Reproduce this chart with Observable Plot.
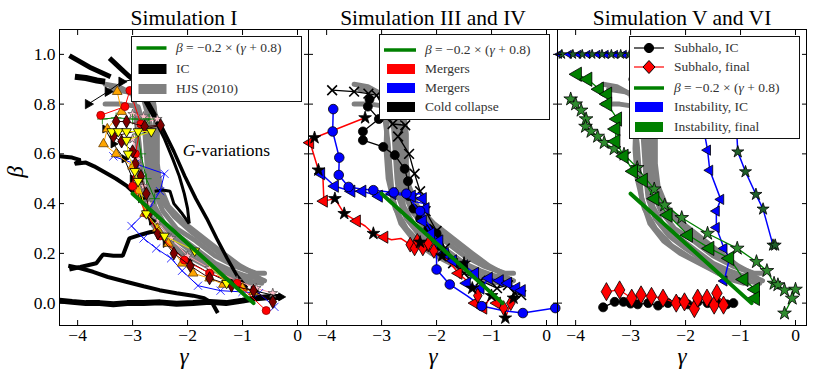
<!DOCTYPE html>
<html>
<head>
<meta charset="utf-8">
<script src="https://cdn.jsdelivr.net/npm/d3@7"></script>
<script src="https://cdn.jsdelivr.net/npm/@observablehq/plot@0.6"></script>
<style>
html,body{margin:0;padding:0;background:#fff;}
#wrap{position:relative;width:831px;height:371px;overflow:hidden;font-family:"Liberation Serif","DejaVu Serif","Noto Serif","Times New Roman",Tinos,FreeSerif,serif;}
#wrap > svg{display:block;}
.leg{position:absolute;background:#fff;border:1px solid #111;box-sizing:border-box;}
.row{position:absolute;left:0;height:20px;width:100%;}
.row svg{position:absolute;left:0;top:0;}
.row span{position:absolute;top:0;line-height:20px;font-size:13.5px;color:#333;white-space:nowrap;}
</style>
</head>
<body>
<div id="wrap"></div>
<script>
const P1 = "Simulation I", P2 = "Simulation III and IV", P3 = "Simulation V and VI";
const panels = [P1, P2, P3];
const xTicks = [-4, -3, -2, -1, 0];
const yTicks = [0, 0.2, 0.4, 0.6, 0.8, 1.0];
const fitLine = [[-3.0, 0.44], [-0.8, 0.0]];

// HJS (2010) grey strands (drawn in every panel)
const hjs1 = [[-3.5,0.80],[-3.2,0.80],[-2.9,0.79],[-2.78,0.70],[-2.75,0.6],[-2.72,0.5],[-2.68,0.42],[-2.55,0.34],[-2.3,0.27],[-2.0,0.22],[-1.6,0.16],[-1.2,0.11],[-0.9,0.09],[-0.65,0.08]];
const hjs2 = [[-3.4,0.86],[-3.1,0.85],[-2.8,0.82],[-2.68,0.72],[-2.62,0.6],[-2.6,0.5],[-2.5,0.42],[-2.25,0.35],[-1.95,0.29],[-1.6,0.23],[-1.3,0.18],[-1.0,0.14],[-0.75,0.12],[-0.6,0.12]];
const hjs3 = [[-3.0,0.9],[-2.8,0.87],[-2.62,0.8],[-2.55,0.68],[-2.55,0.56],[-2.5,0.47],[-2.35,0.39],[-2.05,0.32],[-1.7,0.26],[-1.35,0.2],[-1.05,0.15],[-0.8,0.12]];
const hjs4 = [[-2.95,0.76],[-2.88,0.64],[-2.84,0.52],[-2.8,0.42],[-2.65,0.32],[-2.4,0.25],[-2.1,0.2],[-1.75,0.16],[-1.4,0.12],[-1.1,0.095],[-0.85,0.08]];
const hjs5 = [[-2.75,0.84],[-2.72,0.7],[-2.7,0.58],[-2.66,0.48],[-2.6,0.39],[-2.4,0.31],[-2.1,0.26],[-1.8,0.21],[-1.5,0.16],[-1.2,0.13],[-0.95,0.11],[-0.7,0.1]];
const hjs6 = [[-3.5,0.88],[-3.25,0.87],[-3.0,0.84],[-2.9,0.74],[-2.92,0.62],[-2.88,0.5],[-2.75,0.38],[-2.55,0.3],[-2.25,0.23],[-1.9,0.18],[-1.55,0.14],[-1.25,0.1],[-0.95,0.08]];
const hjs7 = [[-2.85,0.9],[-2.65,0.86],[-2.58,0.74],[-2.62,0.62],[-2.65,0.52],[-2.58,0.44],[-2.45,0.37],[-2.2,0.3],[-1.85,0.25],[-1.5,0.19],[-1.15,0.15],[-0.9,0.13],[-0.7,0.1],[-0.6,0.09]];
const hjsStrands = [hjs1, hjs2, hjs3, hjs4, hjs5, hjs6, hjs7];

// Simulation I : IC (thick black)
const ic1 = [[-4.15,0.995],[-3.95,0.97],[-3.75,0.945],[-3.55,0.925],[-3.4,0.91]];
const ic2 = [[-4.05,0.91],[-3.85,0.905],[-3.65,0.895],[-3.5,0.89]];
const ic3 = [[-3.42,0.985],[-3.25,0.95],[-3.08,0.915],[-2.9,0.885]];
const ic4 = [[-2.95,0.88],[-2.8,0.84],[-2.62,0.77],[-2.45,0.70],[-2.25,0.61],[-2.05,0.51],[-1.85,0.42],[-1.65,0.34],[-1.47,0.26],[-1.28,0.18],[-1.1,0.11],[-0.92,0.06]];
const ic5 = [[-2.8,0.82],[-2.6,0.74],[-2.42,0.66],[-2.27,0.58],[-2.15,0.51],[-2.06,0.44],[-2.0,0.38],[-1.97,0.32]];
const ic6 = [[-4.33,0.59],[-4.1,0.585],[-3.95,0.575],[-4.05,0.56],[-3.85,0.565],[-3.7,0.55],[-3.5,0.525],[-3.3,0.5],[-3.1,0.47],[-2.95,0.44]];
const ic7 = [[-2.6,0.45],[-2.45,0.455],[-2.32,0.45],[-2.25,0.4],[-2.1,0.36],[-1.97,0.32]];
const ic8 = [[-4.15,0.135],[-3.95,0.145],[-3.66,0.16],[-3.54,0.195],[-3.35,0.19],[-3.18,0.19],[-3.06,0.26],[-2.85,0.275],[-2.69,0.285],[-2.55,0.29]];
const ic9 = [[-4.17,0.15],[-3.95,0.14],[-3.72,0.126],[-3.45,0.105],[-3.12,0.086],[-2.8,0.068],[-2.51,0.052],[-2.2,0.04],[-1.9,0.03],[-1.7,0.02],[-1.55,0.0],[-1.45,-0.04]];
const ic10 = [[-4.33,0.01],[-4.1,0.005],[-3.85,0.0],[-3.6,0.0],[-3.35,-0.005],[-3.1,0.0],[-2.8,0.0],[-2.5,0.003],[-2.2,-0.003],[-1.9,0.0],[-1.6,0.005],[-1.3,0.0],[-1.0,0.01],[-0.75,0.02],[-0.5,0.025],[-0.3,0.025]];
const icLines = [ic1, ic2, ic3, ic4, ic5, ic6, ic7, ic8, ic9, ic10];
const icWidths = [5, 6, 5, 3.5, 3, 4, 3, 4, 4, 6];

// Simulation I : G-variations
const p1Red = [[-3.58,0.755],[-3.14,0.79],[-3.05,0.855],[-2.85,0.72],[-2.95,0.6],[-3.0,0.47],[-2.75,0.36],[-2.5,0.27],[-2.06,0.173],[-1.6,0.12],[-1.1,0.08],[-0.57,-0.03]];
const p1Orange = [[-3.28,0.85],[-3.2,0.77],[-3.46,0.70],[-3.53,0.64],[-3.3,0.6],[-3.0,0.55],[-2.9,0.45],[-2.78,0.36],[-2.55,0.3],[-2.35,0.24],[-2.1,0.16],[-1.9,0.12],[-1.6,0.1],[-1.35,0.075],[-1.0,0.06],[-0.8,0.045]];
const p1Yellow = [[-3.38,0.69],[-3.26,0.69],[-3.11,0.69],[-2.9,0.69],[-2.66,0.69],[-3.11,0.655],[-3.08,0.6],[-2.96,0.53],[-2.9,0.49],[-2.75,0.36],[-2.42,0.27],[-1.87,0.21],[-1.29,0.08]];
const p1Maroon = [[-3.3,0.73],[-3.11,0.73],[-2.78,0.71],[-2.49,0.715],[-3.35,0.67],[-3.2,0.65],[-3.0,0.61],[-2.95,0.56],[-2.85,0.51],[-2.75,0.44],[-2.7,0.36],[-2.54,0.28],[-2.25,0.2],[-1.95,0.15],[-1.6,0.1],[-1.2,0.07],[-0.8,0.05],[-0.45,0.005]];
const p1Pink = [[-3.0,0.76],[-2.8,0.75],[-2.55,0.74],[-2.9,0.72],[-3.0,0.66],[-2.9,0.58],[-2.85,0.52],[-2.8,0.47],[-2.7,0.4],[-2.55,0.33],[-2.3,0.26],[-2.0,0.19],[-1.6,0.14],[-1.1,0.09],[-0.75,0.06],[-0.45,0.04]];
const p1BlueX = [[-3.35,0.59],[-2.95,0.56],[-2.42,0.52],[-2.5,0.45],[-2.7,0.38],[-3.02,0.31],[-2.8,0.26],[-2.57,0.22],[-2.3,0.18],[-2.1,0.13],[-1.81,0.07],[-1.4,0.05],[-1.0,0.045],[-0.7,0.04],[-0.42,-0.015]];
const p1Black1 = [[-3.81,0.80],[-3.45,0.85],[-3.2,0.89],[-2.95,0.90],[-2.7,0.89]];
const p1Black2 = [[-3.5,0.7],[-3.35,0.64],[-3.15,0.58],[-3.0,0.5],[-2.85,0.42],[-2.65,0.33],[-2.4,0.24],[-2.0,0.17],[-1.6,0.12],[-1.2,0.08],[-0.8,0.05],[-0.3,0.025]];
const p1GreenPlus = [[-3.55,0.74],[-3.3,0.745],[-3.0,0.74],[-2.7,0.74],[-2.9,0.68],[-2.85,0.6],[-2.75,0.5],[-2.6,0.42]];

// Simulation III and IV
const p2RedPath = [[-3.3,0.745],[-4.22,0.665],[-4.3,0.645],[-4.15,0.535],[-4.07,0.52],[-4.05,0.41],[-3.85,0.42],[-3.68,0.36],[-3.45,0.33],[-3.3,0.31],[-3.15,0.28],[-2.95,0.265],[-2.82,0.255],[-2.65,0.26],[-2.48,0.235],[-2.4,0.22],[-2.3,0.245],[-2.2,0.23],[-2.05,0.21],[-1.9,0.19],[-1.75,0.16],[-1.6,0.12],[-1.45,0.09],[-1.35,0.06],[-1.25,0.03],[-1.3,0.0],[-1.15,-0.02],[-1.0,0.03],[-0.9,0.0],[-0.78,-0.02],[-0.75,-0.06],[-0.65,0.0],[-0.6,0.02]];
const p2RedStars = [[-3.3,0.745],[-4.22,0.665],[-4.15,0.535],[-3.85,0.42],[-3.68,0.36],[-3.15,0.28],[-2.3,0.245],[-1.9,0.19],[-1.5,0.16],[-1.35,0.06],[-1.0,0.03],[-0.75,-0.06],[-0.6,0.02]];
const p2RedTri = [[-4.3,0.645],[-4.05,0.41],[-3.45,0.33],[-2.95,0.265],[-2.2,0.23],[-1.6,0.12],[-1.3,0.0],[-0.9,0.0],[-1.15,-0.02]];
const p2RedDia = [[-2.48,0.235],[-2.4,0.22],[-2.35,0.25],[-2.25,0.22],[-2.15,0.24],[-2.05,0.21],[-1.25,0.03],[-0.78,-0.02],[-0.65,0.0]];
const p2BluePath = [[-3.88,0.78],[-3.89,0.69],[-3.77,0.585],[-3.78,0.515],[-3.6,0.467],[-3.4,0.46],[-3.15,0.454],[-2.78,0.445],[-2.55,0.44],[-2.3,0.44],[-2.22,0.4],[-2.45,0.41],[-2.32,0.37],[-2.22,0.34],[-2.1,0.3],[-2.02,0.26],[-2.0,0.2],[-2.0,0.135],[-1.76,0.075],[-1.45,0.03],[-1.18,-0.012],[-0.8,-0.03],[-0.43,-0.04],[0.16,-0.02]];
const p2BlueCirc = [[-3.88,0.78],[-3.89,0.69],[-3.77,0.585],[-3.78,0.515],[-3.6,0.467],[-3.15,0.454],[-2.78,0.445],[-2.55,0.44],[-2.3,0.37],[-2.0,0.135],[-1.76,0.075],[-1.18,-0.012],[-0.43,-0.04],[0.16,-0.02]];
const p2BlueTri = [[-4.1,0.52],[-3.85,0.47],[-3.55,0.45],[-3.35,0.45],[-3.05,0.43],[-2.8,0.44],[-2.45,0.43],[-2.25,0.42],[-2.2,0.38],[-2.25,0.33],[-2.1,0.28],[-1.95,0.25],[-1.85,0.2],[-1.7,0.17],[-1.5,0.15],[-1.3,0.12],[-1.45,0.08],[-1.2,0.06],[-1.05,0.1],[-0.85,0.09],[-0.7,0.08],[-0.55,0.06],[-0.45,0.05]];
const p2ColdCirc = [[-3.22,0.82],[-3.25,0.79],[-3.05,0.74],[-3.34,0.69],[-3.34,0.655],[-2.97,0.628],[-2.76,0.595],[-2.58,0.54],[-2.52,0.49],[-2.5,0.43],[-2.42,0.38],[-2.3,0.34],[-2.15,0.30],[-2.0,0.28],[-1.95,0.23],[-1.85,0.2]];
const p2ColdX = [[-3.9,0.856],[-3.5,0.85],[-3.24,0.842],[-3.09,0.835],[-2.95,0.78],[-2.8,0.72],[-2.57,0.715],[-2.7,0.67],[-2.5,0.6],[-2.4,0.52],[-2.3,0.45],[-2.2,0.37],[-2.0,0.29],[-1.85,0.22],[-1.7,0.16],[-1.5,0.12],[-1.2,0.09],[-0.9,0.06],[-0.7,0.072],[-0.58,0.04],[-0.46,0.032]];

// Simulation V and VI
const p3SubIC = [[-3.5,-0.017],[-3.29,0.005],[-3.13,0.005],[-3.0,-0.002],[-2.87,-0.005],[-2.68,0.0],[-2.5,-0.01],[-2.32,0.0],[-2.14,0.005],[-1.96,-0.005],[-1.78,0.005],[-1.6,0.0],[-1.42,0.005],[-1.25,-0.005],[-1.13,0.0]];
const p3SubFinal = [[-3.44,0.046],[-3.2,0.053],[-2.98,0.02],[-2.81,0.033],[-2.62,0.027],[-2.41,0.02],[-2.17,0.0],[-2.02,0.005],[-1.84,-0.022],[-1.78,0.02],[-1.61,0.02],[-1.48,-0.008],[-1.43,0.04],[-1.31,-0.008]];
const p3InstIcTri = [[-4.3,1.0],[-4.12,1.0],[-3.95,1.0],[-3.78,1.0],[-3.6,1.0],[-3.45,1.0],[-3.28,1.0],[-3.12,1.0],[-2.95,1.0],[-2.6,1.0],[-2.2,0.97],[-1.9,0.88],[-1.72,0.76],[-1.6,0.615],[-1.56,0.534],[-1.36,0.417],[-1.44,0.37],[-1.44,0.304],[-1.3,0.22],[-1.2,0.18],[-1.3,0.089]];
const p3InstIcStar = [[-4.25,1.0],[-4.05,1.0],[-3.88,1.0],[-3.7,1.0],[-3.52,1.0],[-3.35,1.0],[-3.18,1.0],[-3.02,1.0],[-2.6,1.0],[-2.0,0.97],[-1.5,0.88],[-1.2,0.77],[-1.07,0.69],[-1.05,0.608],[-0.91,0.528],[-0.72,0.437],[-0.59,0.378],[-0.41,0.233],[-0.37,0.233]];
const p3InstFinTri = [[-3.97,0.92],[-3.78,0.90],[-3.57,0.86],[-3.42,0.84],[-3.42,0.80],[-3.24,0.74],[-3.27,0.70],[-3.27,0.65],[-3.12,0.59],[-2.95,0.53],[-2.77,0.494],[-2.56,0.42],[-2.32,0.354],[-1.95,0.273],[-1.56,0.22],[-1.2,0.18],[-0.94,0.095],[-0.73,0.055],[-0.73,0.019]];
const p3InstFinStar = [[-4.09,0.82],[-4.0,0.80],[-3.9,0.775],[-3.81,0.74],[-3.82,0.71],[-3.72,0.69],[-3.6,0.67],[-3.48,0.645],[-3.3,0.62],[-3.12,0.598],[-2.88,0.544],[-2.57,0.458],[-2.38,0.394],[-2.07,0.343],[-1.6,0.28],[-1.06,0.22],[-0.71,0.166],[-0.52,0.13],[-0.39,0.079],[-0.32,0.073],[-0.2,0.052],[0.0,0.055],[-0.06,0.019],[-0.2,-0.041]];

// ---- styles (kept apart from the data) ----
const topRowR = d => d.y > 0.95 ? 3.3 : 5.3;
const series = [
  {p:P1, d:p1Pink, stroke:"#ff9fb0", sym:"star", fill:"#ffc0cb", ms:"#555", r:3},
  {p:P1, d:p1BlueX, stroke:"blue", sym:"times", fill:"none", ms:"blue", r:3.8},
  {p:P1, d:p1GreenPlus, stroke:"green", sym:"plus", fill:"none", ms:"green", r:3.5},
  {p:P1, d:p1Black1, stroke:"black", sym:"triangle", rot:90, fill:"black", ms:"black", r:3.5},
  {p:P1, d:p1Black2, stroke:"black", sym:"triangle", rot:90, fill:"black", ms:"black", r:3},
  {p:P1, d:p1Orange, stroke:"orange", sym:"triangle", fill:"orange", ms:"#6b4000", r:3.6},
  {p:P1, d:p1Red, stroke:"red", sym:"circle", fill:"red", ms:"#900", r:4},
  {p:P1, d:p1Maroon, stroke:"#300", sym:"diamond", fill:"#800000", ms:"black", r:4},
  {p:P1, d:p1Yellow, stroke:"#e6e600", sym:"triangle", rot:180, fill:"yellow", ms:"black", r:3.6},
  {p:P2, d:p2ColdX, stroke:"black", sw:1.3, sym:"times", fill:"none", ms:"black", r:4.5, msw:1.6},
  {p:P2, d:p2ColdCirc, stroke:"black", sw:1.3, sym:"circle", fill:"black", ms:"black", r:4.5},
  {p:P2, d:p2RedPath, stroke:"red", sw:1.5},
  {p:P2, d:p2BluePath, stroke:"blue", sw:1.5},
  {p:P2, d:p2BlueTri, stroke:"blue", sw:1.5, sym:"triangle", rot:-90, fill:"blue", ms:"black", r:4.5},
  {p:P2, d:p2RedTri, sym:"triangle", rot:-90, fill:"red", ms:"black", r:4.5},
  {p:P2, d:p2RedDia, sym:"diamond", fill:"red", ms:"black", r:4.5},
  {p:P2, d:p2RedStars, sym:"star", fill:"black", ms:"black", r:4},
  {p:P2, d:p2BlueCirc, sym:"circle", fill:"blue", ms:"black", r:4.8},
  {p:P3, d:p3InstIcTri, stroke:"blue", sw:1.5, sym:"triangle", rot:-90, fill:"blue", ms:"black", r:topRowR},
  {p:P3, d:p3InstIcStar, stroke:"blue", sw:1.5, sym:"star", fill:"#1f5f2a", ms:"black", r:topRowR},
  {p:P3, d:p3InstFinStar, stroke:"green", sw:1.3, sym:"star", fill:"#2e8b2e", ms:"black", r:4.3},
  {p:P3, d:p3InstFinTri, stroke:"green", sw:1.3, sym:"triangle", rot:-90, fill:"green", ms:"black", r:5.3},
  {p:P3, d:p3SubIC, stroke:"black", sw:1.2, sym:"circle", fill:"black", ms:"black", r:4.5},
  {p:P3, d:p3SubFinal, stroke:"red", sw:1.2, sym:"diamond", fill:"red", ms:"black", r:5.5}
];

const rows = (arr, panel) => arr.map(([x, y]) => ({x, y, panel}));

const marks = [];
marks.push(Plot.line(hjsStrands.flatMap((s, i) => s.map(([x, y]) => ({x, y, k: i}))),
  {x: "x", y: "y", z: "k", stroke: "#808080", strokeWidth: 5, strokeLinejoin: "round", strokeLinecap: "round"}));
icLines.forEach((s, i) => marks.push(Plot.line(rows(s, P1),
  {x: "x", y: "y", fx: "panel", stroke: "black", strokeWidth: icWidths[i], strokeLinejoin: "miter", strokeLinecap: "butt"})));
for (const s of series) {
  const r = rows(s.d, s.p);
  if (s.stroke) marks.push(Plot.line(r, {x: "x", y: "y", fx: "panel", stroke: s.stroke, strokeWidth: s.sw || 1, strokeLinejoin: "round"}));
  if (s.sym) marks.push(Plot.dot(r, {x: "x", y: "y", fx: "panel", symbol: s.sym, r: s.r, fill: s.fill, stroke: s.ms, strokeWidth: s.msw || 0.8, rotate: s.rot || 0}));
}
marks.push(Plot.line(fitLine, {x: d => d[0], y: d => d[1], stroke: "#008000", strokeWidth: 4}));

const gvar = [{panel: P1, x: -1.86, y: 0.615}];
marks.push(Plot.text(gvar, {x: "x", y: "y", fx: "panel", text: () => "G", fontStyle: "italic", textAnchor: "end", fontSize: 17.5}));
marks.push(Plot.text(gvar, {x: "x", y: "y", fx: "panel", text: () => "-variations", textAnchor: "start", fontSize: 17.5}));

marks.push(Plot.frame({stroke: "black"}));
marks.push(Plot.axisFx({anchor: "top", tickSize: 0, tickPadding: 5, fontSize: 21.5, label: null}));
marks.push(Plot.axisX(xTicks, {anchor: "bottom", tickSize: 0, tickPadding: 3, fontSize: 17.5, tickFormat: d3.format("d"), label: null}));
marks.push(Plot.axisX(xTicks, {anchor: "bottom", tickSize: 5, insetBottom: 5, fill: "none", label: null}));
marks.push(Plot.axisX(xTicks, {anchor: "top", tickSize: 5, insetTop: 5, fill: "none", label: null}));
marks.push(Plot.axisY(yTicks, {anchor: "left", tickSize: 0, tickPadding: 4, fontSize: 17.5, tickFormat: d3.format(".1f"), label: null}));
marks.push(Plot.axisY(yTicks, {anchor: "left", tickSize: 5, insetLeft: 5, fill: "none", label: null, facetAnchor: null}));
marks.push(Plot.axisY(yTicks, {anchor: "right", tickSize: 5, insetRight: 5, fill: "none", label: null, facetAnchor: null}));
marks.push(Plot.text(panels, {fx: d => d, frameAnchor: "bottom", lineAnchor: "bottom", text: () => "γ", dy: 38, fontSize: 23, fontStyle: "italic"}));
marks.push(Plot.text([P1], {fx: d => d, frameAnchor: "left", text: () => "β", dx: -44, rotate: -90, fontSize: 23, fontStyle: "italic"}));

const chart = Plot.plot({
  width: 831, height: 371,
  marginLeft: 58, marginRight: 25, marginTop: 29, marginBottom: 46,
  x: {domain: [-4.33, 0.2]},
  y: {domain: [-0.09, 1.1]},
  fx: {domain: panels, padding: 0, label: null},
  style: {fontFamily: "'Liberation Serif', 'DejaVu Serif', 'Noto Serif', 'Times New Roman', Tinos, FreeSerif, serif", background: "white", color: "black"},
  marks
});
const wrap = document.getElementById("wrap");
wrap.appendChild(chart);

// ---- legends ----
const formula = '<i>β</i> = −0.2 × (<i>γ</i> + 0.8)';
const legends = [
  {box: [130.5, 35.5, 171, 66.5], tx: 44.5, rows: [
    {cy: 12.5, kind: "line", color: "#008000", w: 3.5, x1: 4.5, x2: 34.5, html: formula},
    {cy: 33, kind: "patch", color: "#000", px: 6.5, html: "IC"},
    {cy: 53, kind: "patch", color: "#808080", px: 6.5, html: "HJS (2010)"}]},
  {box: [379, 34, 171, 85.5], tx: 45, rows: [
    {cy: 15.5, kind: "line", color: "#008000", w: 3.5, x1: 4, x2: 36, html: formula},
    {cy: 34.5, kind: "patch", color: "red", px: 7, html: "Mergers"},
    {cy: 53.8, kind: "patch", color: "blue", px: 7, html: "Mergers"},
    {cy: 72.5, kind: "patch", color: "#000", px: 7, html: "Cold collapse"}]},
  {box: [629, 36, 170.5, 102.5], tx: 44, rows: [
    {cy: 11.5, kind: "line", color: "black", w: 1.2, x1: 4, x2: 34, marker: "circle", mfill: "black", html: "Subhalo, IC"},
    {cy: 31, kind: "line", color: "red", w: 1.2, x1: 4, x2: 34, marker: "diamond", mfill: "red", html: "Subhalo, final"},
    {cy: 51.5, kind: "line", color: "#008000", w: 3.5, x1: 4, x2: 34, html: formula},
    {cy: 71, kind: "patch", color: "blue", px: 5, html: "Instability, IC"},
    {cy: 90.5, kind: "patch", color: "#008000", px: 5, html: "Instability, final"}]}
];
for (const L of legends) {
  const div = document.createElement("div");
  div.className = "leg";
  Object.assign(div.style, {left: L.box[0] + "px", top: L.box[1] + "px", width: L.box[2] + "px", height: L.box[3] + "px"});
  for (const r of L.rows) {
    const row = document.createElement("div");
    row.className = "row";
    row.style.top = (r.cy - 10 - 1) + "px";
    let sw = "";
    if (r.kind === "line") {
      sw += `<line x1="${r.x1}" x2="${r.x2}" y1="10" y2="10" stroke="${r.color}" stroke-width="${r.w}"/>`;
      const cx = (r.x1 + r.x2) / 2;
      if (r.marker === "circle") sw += `<circle cx="${cx}" cy="10" r="4.6" fill="${r.mfill}" stroke="black"/>`;
      if (r.marker === "diamond") sw += `<path d="M${cx},3.5L${cx + 6},10L${cx},16.5L${cx - 6},10Z" fill="${r.mfill}" stroke="black"/>`;
    } else {
      sw += `<rect x="${r.px}" y="5" width="28" height="10" fill="${r.color}"/>`;
    }
    row.innerHTML = `<svg width="42" height="20">${sw}</svg><span style="left:${L.tx}px">${r.html}</span>`;
    div.appendChild(row);
  }
  wrap.appendChild(div);
}
</script>
</body>
</html>
